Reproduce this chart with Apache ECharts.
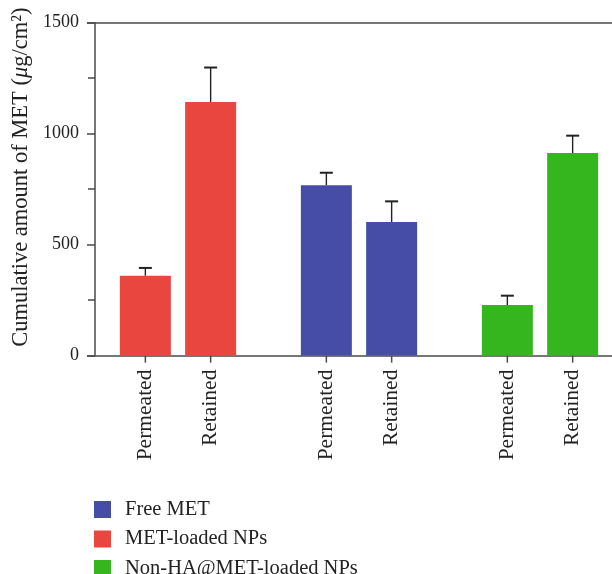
<!DOCTYPE html>
<html>
<head>
<meta charset="utf-8">
<script src="https://cdn.jsdelivr.net/npm/echarts@6/dist/echarts.min.js"></script>
<style>
  html, body { margin: 0; padding: 0; background: #fff; }
  #chart { width: 612px; height: 574px; }
</style>
</head>
<body>
<div id="chart"></div>
<script>
// Formulations (one bar pair each) and the two measured fractions
const groups = ['MET-loaded NPs', 'Free MET', 'Non-HA@MET-loaded NPs'];
const measures = ['Permeated', 'Retained'];

// Cumulative amount of MET (µg/cm²), mean and SD
const permeated   = [360, 768, 228];
const retained    = [1143, 602, 913];
const permeatedSD = [35, 56, 42];
const retainedSD  = [155, 93, 78];

const legendOrder = ['Free MET', 'MET-loaded NPs', 'Non-HA@MET-loaded NPs'];
const yTicks = [0, 500, 1000, 1500];

// ---- styling ----
const FONT = '"Liberation Serif", "DejaVu Serif", serif';
const AXIS_COLOR = '#4a4a4a';
const TEXT_COLOR = '#222';
const COLORS = {
  'MET-loaded NPs': '#e9463f',
  'Free MET': '#454da6',
  'Non-HA@MET-loaded NPs': '#35b51e'
};
const BAR_WIDTH = 51;
const BAR_GAP = 0.28;

const valuesByMeasure = [permeated, retained];
const sdByMeasure = [permeatedSD, retainedSD];

// horizontal offset of a bar from its group centre (two bars per group)
function barOffset(k) {
  return (k - 0.5) * BAR_WIDTH * (1 + BAR_GAP);
}

const series = [];
groups.forEach(function (g, gi) {
  measures.forEach(function (m, mi) {
    series.push({
      type: 'bar',
      name: g,
      stack: m,
      barWidth: BAR_WIDTH,
      barGap: (BAR_GAP * 100) + '%',
      data: groups.map(function (_, i) { return i === gi ? valuesByMeasure[mi][gi] : '-'; }),
      itemStyle: { color: COLORS[g] },
      label: {
        show: true,
        position: 'bottom',
        distance: 14,
        rotate: 90,
        align: 'right',
        verticalAlign: 'middle',
        formatter: m,
        fontFamily: FONT,
        fontSize: 21.5,
        color: TEXT_COLOR
      }
    });
  });
});

// error bars (upper SD only)
const errData = [];
groups.forEach(function (g, gi) {
  measures.forEach(function (m, mi) {
    errData.push([gi, mi, valuesByMeasure[mi][gi], sdByMeasure[mi][gi]]);
  });
});
series.push({
  type: 'custom',
  name: 'SD',
  clip: false,
  encode: { x: 0, y: 2 },
  data: errData,
  z: 5,
  renderItem: function (params, api) {
    const g = api.value(0), k = api.value(1), v = api.value(2), sd = api.value(3);
    const base = api.coord([g, v]);
    const top = api.coord([g, v + sd]);
    const x = base[0] + barOffset(k);
    return {
      type: 'group',
      children: [
        { type: 'line', shape: { x1: x, y1: base[1], x2: x, y2: top[1] },
          style: { stroke: TEXT_COLOR, lineWidth: 1.4 } },
        { type: 'line', shape: { x1: x - 6.5, y1: top[1], x2: x + 6.5, y2: top[1] },
          style: { stroke: TEXT_COLOR, lineWidth: 2 } }
      ]
    };
  }
});

// axis ticks under every bar
const tickData = [];
groups.forEach(function (g, gi) {
  measures.forEach(function (m, mi) { tickData.push([gi, mi, 0]); });
});
series.push({
  type: 'custom',
  name: 'ticks',
  clip: false,
  encode: { x: 0, y: 2 },
  data: tickData,
  z: 5,
  silent: true,
  renderItem: function (params, api) {
    const p = api.coord([api.value(0), 0]);
    const x = p[0] + barOffset(api.value(1));
    return { type: 'line', shape: { x1: x, y1: p[1], x2: x, y2: p[1] + 7 },
             style: { stroke: AXIS_COLOR, lineWidth: 1.5 } };
  }
});

const chart = echarts.init(document.getElementById('chart'), null, { renderer: 'canvas' });
chart.setOption({
  animation: false,
  backgroundColor: '#fff',
  grid: {
    left: 87.5, width: 543, top: 22.7, height: 332.9,
    containLabel: false, outerBoundsMode: 'none'
  },
  legend: {
    data: legendOrder,
    orient: 'vertical',
    left: 94,
    top: 499,
    height: 120,
    padding: 0,
    icon: 'rect',
    itemWidth: 17,
    itemHeight: 17,
    itemGap: 8.5,
    selectedMode: false,
    textStyle: { fontFamily: FONT, fontSize: 20.5, color: TEXT_COLOR, padding: [0, 0, 0, 9] }
  },
  xAxis: [
    {
      type: 'category',
      data: groups,
      position: 'bottom',
      axisLine: { show: true, lineStyle: { color: AXIS_COLOR, width: 1.5 } },
      axisTick: { show: false },
      axisLabel: { show: false },
      splitLine: { show: false }
    },
    {
      type: 'category',
      data: groups,
      position: 'top',
      axisLine: { show: true, lineStyle: { color: AXIS_COLOR, width: 1.5 } },
      axisTick: { show: false },
      axisLabel: { show: false },
      splitLine: { show: false }
    }
  ],
  yAxis: {
    type: 'value',
    min: yTicks[0],
    max: yTicks[yTicks.length - 1],
    interval: yTicks[1] - yTicks[0],
    offset: -7.5,
    name: '{t|Cumulative amount of MET (}{i|μ}{t|g/cm²)}',
    nameLocation: 'middle',
    nameGap: 61,
    nameRotate: 90,
    nameTextStyle: {
      padding: [0, 0, 0, 24],
      rich: {
        t: { fontFamily: FONT, fontSize: 22.5, color: TEXT_COLOR },
        i: { fontFamily: FONT, fontSize: 22.5, color: TEXT_COLOR, fontStyle: 'italic' }
      }
    },
    axisLine: { show: true, lineStyle: { color: AXIS_COLOR, width: 1.5 } },
    axisTick: { show: true, length: 8, lineStyle: { color: AXIS_COLOR, width: 1.5 } },
    minorTick: { show: true, splitNumber: 2, length: 7, lineStyle: { color: AXIS_COLOR, width: 1.5 } },
    axisLabel: {
      fontFamily: FONT, fontSize: 18, color: TEXT_COLOR, margin: 16,
      formatter: function (v) { return String(v); }
    },
    splitLine: { show: false }
  },
  series: series
});
</script>
</body>
</html>
